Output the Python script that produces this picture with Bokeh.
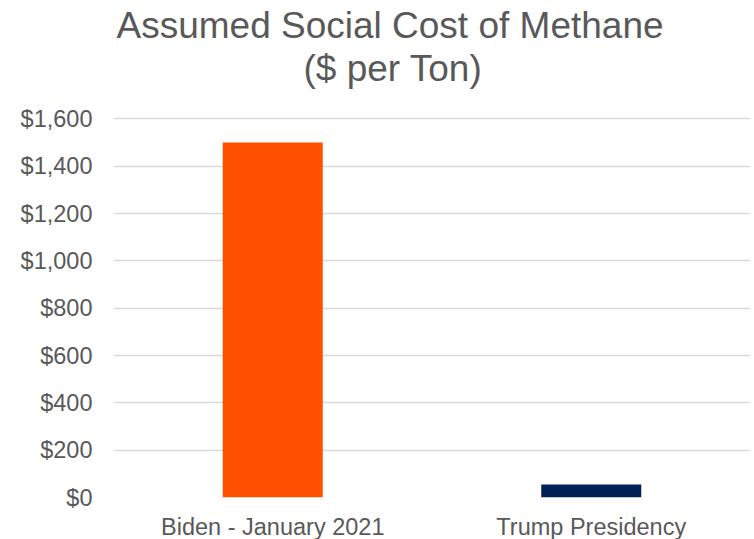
from bokeh.plotting import figure
from bokeh.models import Title, NumeralTickFormatter, FixedTicker, ColumnDataSource, Range1d
from bokeh.embed import file_html
from bokeh.resources import INLINE

categories = ["Biden - January 2021", "Trump Presidency"]
values = [1500, 55]
colors = ["#FF5000", "#002157"]
y_ticks = [0, 200, 400, 600, 800, 1000, 1200, 1400, 1600]
title_lines = ["Assumed Social Cost of Methane", "($ per Ton)"]

FONT = "Liberation Sans"
GRAY = "#595959"

src = ColumnDataSource(dict(cat=categories, val=values, color=colors))

p = figure(x_range=categories, y_range=Range1d(0, 1606), width=754, height=539,
           frame_width=637, frame_height=380,
           min_border_left=113, min_border_right=4, min_border_top=117, min_border_bottom=42,
           output_backend="svg", toolbar_location=None, tools="")
p.outline_line_color = None
p.background_fill_color = "white"
p.border_fill_color = "white"
p.x_range.range_padding = 0

p.vbar(x="cat", top="val", width=0.314, color="color", line_color=None, source=src)

p.yaxis.ticker = FixedTicker(ticks=y_ticks)
p.yaxis.formatter = NumeralTickFormatter(format="$0,0")
for ax in (p.xaxis[0], p.yaxis[0]):
    ax.axis_line_color = None
    ax.major_tick_line_color = None
    ax.minor_tick_line_color = None
    ax.major_label_text_font = FONT
    ax.major_label_text_font_size = "23.5px"
    ax.major_label_text_color = GRAY
p.yaxis.major_label_standoff = 15
p.xaxis.major_label_standoff = 10

p.xgrid.grid_line_color = None
p.ygrid.grid_line_color = "#D9D9D9"
p.ygrid.grid_line_width = 1.5

# title lines: bottom line added first (nearest the frame)
offsets = [3, 190]
standoffs = [-58, 58]
for t, off, so in reversed(list(zip(title_lines, offsets, standoffs))):
    p.add_layout(Title(text=t, align="left", offset=off, text_font=FONT,
                       text_font_size="37px", text_font_style="normal",
                       text_color=GRAY, standoff=so), "above")

open("out.html", "w").write(file_html(p, INLINE))
